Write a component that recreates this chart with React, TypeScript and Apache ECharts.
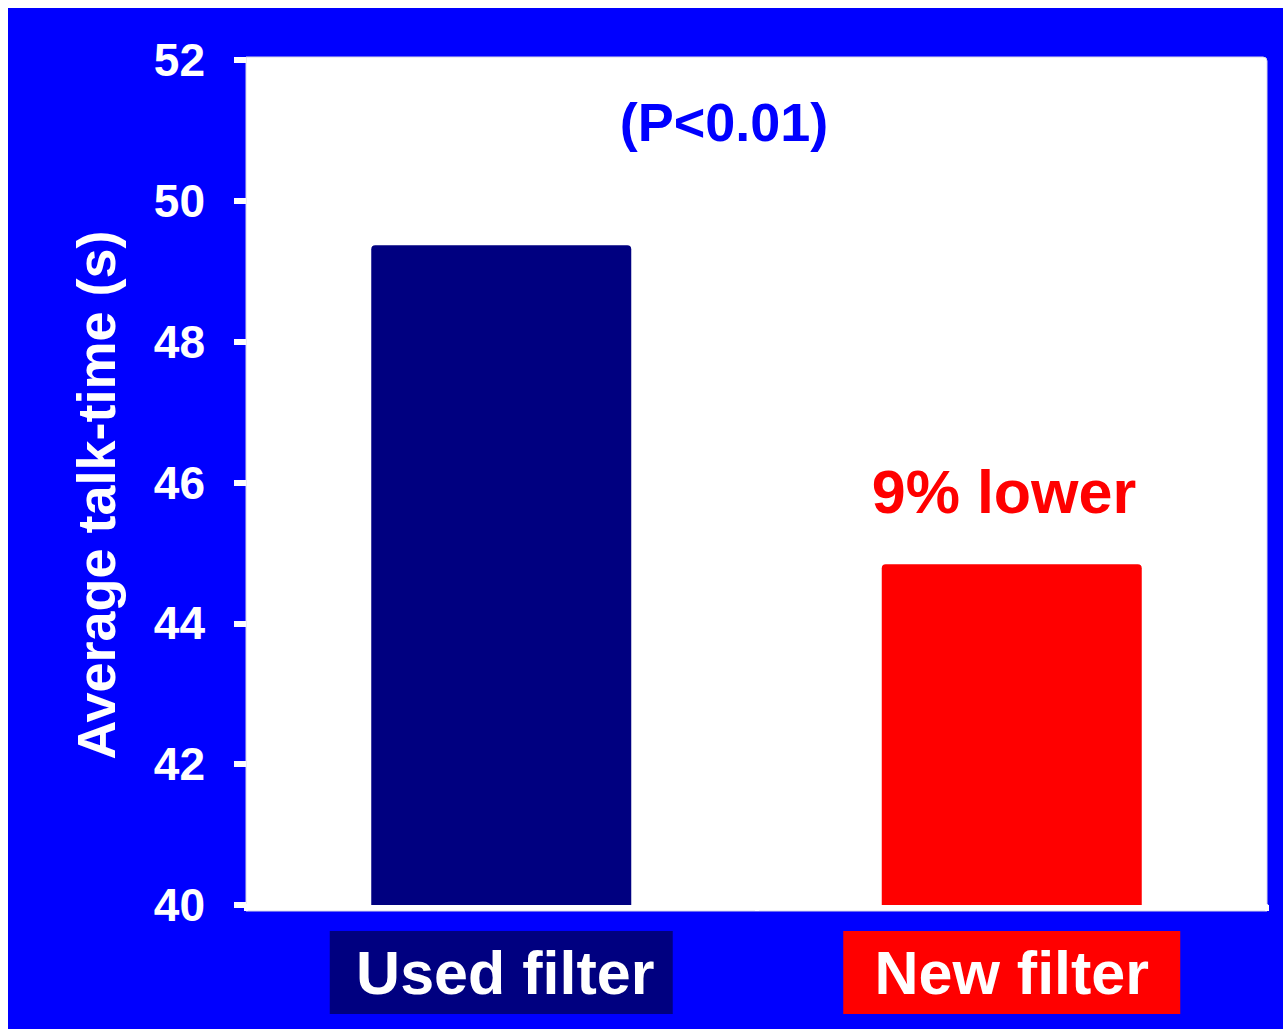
import React, { useEffect, useRef } from "react";
import * as echarts from "echarts";

const categories = ["Used filter", "New filter"];
const values = [49.37, 44.84];
const barColors = ["#000080", "#FF0000"];
const yTicks = { min: 40, max: 52, interval: 2 };
const yAxisTitle = "Average talk-time (s)";
const pValueText = "(P<0.01)";
const diffText = "9% lower";

const FONT = "'Liberation Sans', Arial, Helvetica, sans-serif";

export default function App() {
  const ref = useRef<HTMLDivElement>(null);
  useEffect(() => {
    if (!ref.current) return;
    const chart = echarts.init(ref.current, undefined, { renderer: "svg" });
    const W = 1275;
    const grid = { left: 238, right: 16, top: 52, bottom: 124 };
    chart.setOption({
      animation: false,
      backgroundColor: "#0000FF",
      textStyle: { fontFamily: FONT },
      grid: { ...grid, containLabel: false },
      graphic: [
        {
          type: "rect",
          z: -1,
          shape: { x: 238, y: 49, width: W - 16 - 238, height: 903 - 49, r: [0, 4, 0, 0] },
          style: { fill: "#FFFFFF", stroke: "#D8D8E8", lineWidth: 1 },
        },
        {
          type: "text",
          x: 88,
          y: 487,
          rotation: Math.PI / 2,
          style: {
            text: yAxisTitle,
            fill: "#FFFFFF",
            font: `bold 54px ${FONT}`,
            align: "center",
            verticalAlign: "middle",
          },
        },
        {
          type: "text",
          x: 716,
          y: 114,
          z: 10,
          style: {
            text: pValueText,
            fill: "#0000FF",
            font: `bold 54px ${FONT}`,
            align: "center",
            verticalAlign: "middle",
          },
        },
        {
          type: "text",
          x: 996,
          y: 484,
          z: 10,
          style: {
            text: diffText,
            fill: "#FF0000",
            font: `bold 61px ${FONT}`,
            align: "center",
            verticalAlign: "middle",
          },
        },
      ],
      xAxis: {
        type: "category",
        data: categories,
        axisLine: { show: true, lineStyle: { color: "#FFFFFF", width: 3 } },
        axisTick: { show: true, length: 6, lineStyle: { color: "#FFFFFF", width: 4 } },
        splitLine: { show: false },
        axisLabel: {
          margin: 26,
          interval: 0,
          formatter: (v: string, i: number) => `{c${i}|${v}}`,
          rich: {
            c0: {
              backgroundColor: barColors[0],
              color: "#FFFFFF",
              fontFamily: FONT,
              fontWeight: "bold",
              fontSize: 61,
              width: 335,
              height: 83,
              lineHeight: 83,
              padding: [0, 0, 0, 8],
              align: "center",
            },
            c1: {
              backgroundColor: barColors[1],
              color: "#FFFFFF",
              fontFamily: FONT,
              fontWeight: "bold",
              fontSize: 61,
              width: 337,
              height: 83,
              lineHeight: 83,
              align: "center",
            },
          },
        },
      },
      yAxis: {
        type: "value",
        min: yTicks.min,
        max: yTicks.max,
        interval: yTicks.interval,
        axisLine: { show: false },
        axisTick: { show: true, length: 12, lineStyle: { color: "#FFFFFF", width: 6 } },
        splitLine: { show: false },
        axisLabel: {
          color: "#FFFFFF",
          fontFamily: FONT,
          fontWeight: "bold",
          fontSize: 46,
          margin: 41,
        },
      },
      series: [
        {
          type: "bar",
          barWidth: 260,
          data: values.map((v, i) => ({
            value: v,
            itemStyle: { color: barColors[i], borderRadius: [4, 4, 0, 0] },
          })),
        },
      ],
    });
    return () => chart.dispose();
  }, []);
  return (
    <div
      ref={ref}
      style={{ position: "fixed", left: 8, top: 8, width: 1275, height: 1021 }}
    />
  );
}
